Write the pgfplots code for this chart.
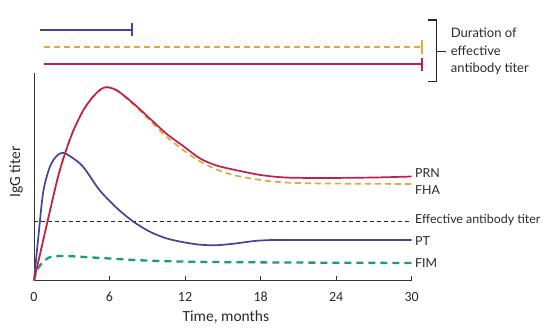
\documentclass[border=0pt]{standalone}
\usepackage{fontspec}
\setmainfont{Carlito}
\newfontfamily\fut{Lato}
\usepackage{pgfplots}
\pgfplotsset{compat=1.18}
\definecolor{cblue}{HTML}{45429B}
\definecolor{cred}{HTML}{C21D4C}
\definecolor{corange}{HTML}{E4A935}
\definecolor{cgreen}{HTML}{17A06F}
\definecolor{ctext}{HTML}{2A2A2A}
\begin{document}
\begin{tikzpicture}[x=1pt,y=1pt]
\path[use as bounding box] (0,0) rectangle (554,330);
\begin{axis}[
  at={(34pt,49.5pt)}, anchor=south west,
  scale only axis, width=377.7pt, height=207.5pt,
  xmin=0, xmax=30, ymin=0, ymax=207.5,
  axis lines=left,
  axis line style={-, line width=1pt, color=black!80},
  xtick={0,6,12,18,24,30}, ytick=\empty,
  tick align=inside, major tick length=5pt,
  tick style={line width=1pt, black!80},
  /pgf/number format/assume math mode=true,
  xticklabel style={anchor=center, yshift=-16.5pt, font=\fontsize{14}{16}\selectfont, text=ctext},
  xlabel={Time, months},
  xlabel style={at={(axis description cs:0.508,-0.176)}, anchor=center, font=\fontsize{15.5}{18}\selectfont, text=ctext},
  ylabel={IgG titer},
  ylabel style={at={(axis description cs:-0.0477,0.523)}, anchor=center, font=\fontsize{15.5}{18}\selectfont, text=ctext},
  clip=false,
]
% effective antibody titer
\addplot[black!85, line width=1pt, dash pattern=on 4pt off 3pt] coordinates {(0,59.5) (30,59.5)};
% FIM
\addplot[cgreen, line width=2.3pt, dash pattern=on 7pt off 5pt, smooth] coordinates {
(0,0) (0.2,9) (0.6,17) (1.3,23.5) (2.5,24.5) (4,23.5) (6,22) (8,20.5) (10,19.5) (14,18.5) (20,18) (30,17.5)};
% PT
\addplot[cblue, line width=1.7pt, smooth, tension=0.5] coordinates {
(0,0) (0.4,50.5) (0.75,90) (1.27,114) (1.8,124.5) (2.3,127.8) (2.9,124) (3.9,113.8) (5.2,90.5) (6.6,72.2) (7.9,58.8) (9.2,48.8) (10.5,42.2) (11.9,38.2) (13.2,35.8) (14.5,35.3) (16,37) (17.5,39.5) (19,40.5) (22,40.5) (30,40.5)};
% FHA
\addplot[corange, line width=1.7pt, dash pattern=on 6pt off 4pt, smooth, tension=0.5] coordinates {
(0,0) (1,55) (2,108) (3,146) (4,172) (5,188) (5.8,193.2) (6.6,190) (7.9,176) (9.2,160) (10.5,144) (11.9,130) (13.2,119) (14.5,111) (16,105) (18,100.5) (20,98) (23,97) (30,96.5)};
% PRN
\addplot[cred, line width=1.7pt, smooth, tension=0.5] coordinates {
(0,0) (1,55) (2,108) (3,146) (4,172) (5,188) (5.7,193.2) (6.6,190) (7.9,177) (9.2,162) (10.5,147) (11.9,134) (13.2,122) (14.5,115) (16,110.5) (18,105.5) (20,103) (23,102.5) (27,103) (30,104)};
% duration bars
\addplot[cblue, line width=1.6pt] coordinates {(0.48,250.5) (7.8,250.5)};
\addplot[cblue, line width=1.6pt] coordinates {(7.8,244) (7.8,257)};
\addplot[corange, line width=1.6pt, dash pattern=on 6pt off 4pt] coordinates {(0.8,233.5) (30.8,233.5)};
\addplot[corange, line width=1.6pt] coordinates {(30.8,227) (30.8,240)};
\addplot[cred, line width=1.6pt] coordinates {(0.8,216.5) (30.8,216.5)};
\addplot[cred, line width=1.6pt] coordinates {(30.8,210) (30.8,223)};
% bracket
\draw[black!85, line width=1.2pt] (axis cs:31.3,260.5) -- (axis cs:31.97,260.5) -- (axis cs:31.97,198.8) -- (axis cs:31.3,198.8);
\draw[black!85, line width=1.2pt] (axis cs:31.97,228.8) -- (axis cs:32.7,228.8);
\node[anchor=west, align=left, text=ctext, font=\fut\fontsize{13}{17.5}\selectfont, inner sep=0pt] at (axis cs:33.1,228.8) {Duration of\\effective\\antibody titer};
% right labels
\begin{scope}[every node/.style={anchor=west, text=ctext, font=\fut\fontsize{12.4}{15}\selectfont, inner sep=0pt}]
\node at (axis cs:30.26,107.5) {PRN};
\node at (axis cs:30.26,90.5) {FHA};
\node at (axis cs:30.26,60.5) {Effective antibody titer};
\node at (axis cs:30.26,39.5) {PT};
\node at (axis cs:30.26,17.5) {FIM};
\end{scope}
\end{axis}
\end{tikzpicture}
\end{document}
